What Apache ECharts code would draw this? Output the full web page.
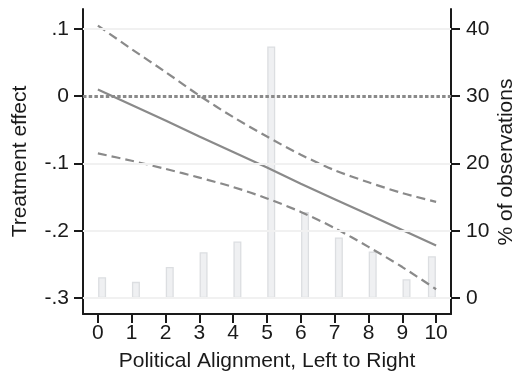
<!DOCTYPE html>
<html>
<head>
<meta charset="utf-8">
<script src="https://cdn.jsdelivr.net/npm/echarts@6/dist/echarts.min.js"></script>
<style>
html,body{margin:0;padding:0;background:#fff;}
#chart{width:517px;height:378px;}
</style>
</head>
<body>
<div id="chart"></div>
<script>
// ---- data ----
const xTicks = [0, 1, 2, 3, 4, 5, 6, 7, 8, 9, 10];
const effectTickValues = [-0.3, -0.2, -0.1, 0, 0.1];
const effectTickLabels = ['-.3', '-.2', '-.1', '0', '.1'];
const pctTicks = [0, 10, 20, 30, 40];

const alignment = [0, 1, 2, 3, 4, 5, 6, 7, 8, 9, 10];
const effect = [0.010, -0.013, -0.036, -0.060, -0.083, -0.106, -0.130, -0.153, -0.176, -0.199, -0.222];
const upperCI = [0.105, 0.070, 0.036, 0.001, -0.031, -0.060, -0.087, -0.110, -0.128, -0.144, -0.157];
const lowerCI = [-0.085, -0.096, -0.108, -0.121, -0.135, -0.152, -0.172, -0.196, -0.224, -0.254, -0.287];

// histogram bins (bin centres) and % of observations
const binCenters = [0.125, 1.125, 2.125, 3.125, 4.125, 5.125, 6.125, 7.125, 8.125, 9.125, 9.875];
const pctObs = [3.1, 2.4, 4.6, 6.8, 8.4, 37.4, 12.8, 9.0, 6.9, 2.8, 6.2];

const FONT = "'Liberation Sans', Arial, Helvetica, sans-serif";
const TXT = '#1a1a1a';
const LINE = '#8a8a8a';

const pairs = (xs, ys) => xs.map((x, i) => [x, ys[i]]);

const chart = echarts.init(document.getElementById('chart'), null, {renderer: 'canvas'});
chart.setOption({
  animation: false,
  backgroundColor: '#ffffff',
  grid: {left: 83, right: 66, top: 9, bottom: 64, containLabel: false, outerBoundsMode: 'none'},
  graphic: [{
    type: 'text',
    x: 506, y: 162,
    rotation: Math.PI / 2,
    silent: true,
    style: {
      text: '% of observations',
      fontFamily: FONT, fontSize: 21, fill: TXT,
      align: 'center', verticalAlign: 'middle'
    }
  }],
  xAxis: {
    type: 'value',
    min: -0.44, max: 10.44,
    name: 'Political Alignment, Left to Right',
    nameLocation: 'middle', nameGap: 37,
    nameTextStyle: {fontFamily: FONT, fontSize: 21, color: TXT},
    axisLine: {show: true, onZero: false, lineStyle: {color: TXT, width: 2}},
    axisTick: {show: true, inside: false, customValues: xTicks, length: 9, lineStyle: {color: TXT, width: 2}},
    axisLabel: {customValues: xTicks, fontFamily: FONT, fontSize: 21, color: TXT, margin: 9},
    splitLine: {show: false}
  },
  yAxis: [{
    type: 'value',
    min: -0.3238, max: 0.1297,
    position: 'left',
    name: 'Treatment effect',
    nameLocation: 'middle', nameGap: 52, nameRotate: 90,
    nameTextStyle: {fontFamily: FONT, fontSize: 21, color: TXT},
    axisLine: {show: true, onZero: false, lineStyle: {color: TXT, width: 2}},
    axisTick: {show: true, inside: false, customValues: effectTickValues, length: 9, lineStyle: {color: TXT, width: 2}},
    axisLabel: {
      customValues: effectTickValues, fontFamily: FONT, fontSize: 21, color: TXT, margin: 14,
      formatter: v => {
        const i = effectTickValues.findIndex(t => Math.abs(t - v) < 1e-9);
        return i >= 0 ? effectTickLabels[i] : '';
      }
    },
    splitLine: {show: false}
  }, {
    type: 'value',
    min: -2.38, max: 42.97,
    position: 'right',
    axisLine: {show: true, onZero: false, lineStyle: {color: TXT, width: 2}},
    axisTick: {show: true, inside: false, customValues: pctTicks, length: 9, lineStyle: {color: TXT, width: 2}},
    axisLabel: {customValues: pctTicks, fontFamily: FONT, fontSize: 21, color: TXT, margin: 15},
    splitLine: {show: false}
  }],
  series: [
    {
      // horizontal grid lines at the left-axis ticks
      type: 'line', yAxisIndex: 0, z: 0,
      data: pairs(alignment, effect),
      lineStyle: {opacity: 0}, showSymbol: false, silent: true,
      markLine: {
        silent: true, symbol: 'none', label: {show: false},
        lineStyle: {color: '#f1f1f1', width: 2, type: 'solid'},
        data: effectTickValues.filter(v => v !== 0).map(v => ({yAxis: v}))
      }
    },
    {
      type: 'bar', yAxisIndex: 1, z: 1,
      data: pairs(binCenters, pctObs),
      barWidth: 8,
      itemStyle: {color: '#eff0f2', borderColor: '#dcdee1', borderWidth: 1.3}
    },
    {
      type: 'line', yAxisIndex: 0, z: 3,
      data: pairs(alignment, upperCI),
      smooth: 0.3, showSymbol: false,
      lineStyle: {color: LINE, width: 2.2, type: [9, 5]}
    },
    {
      type: 'line', yAxisIndex: 0, z: 3,
      data: pairs(alignment, lowerCI),
      smooth: 0.3, showSymbol: false,
      lineStyle: {color: LINE, width: 2.2, type: [9, 5]}
    },
    {
      type: 'line', yAxisIndex: 0, z: 3,
      data: pairs(alignment, effect),
      showSymbol: false,
      lineStyle: {color: LINE, width: 2.2, type: 'solid'},
      markLine: {
        silent: true, symbol: 'none', label: {show: false},
        lineStyle: {color: '#8a8a8a', width: 2.8, type: [3.5, 2.2]},
        data: [{yAxis: 0}]
      }
    }
  ]
});
</script>
</body>
</html>
